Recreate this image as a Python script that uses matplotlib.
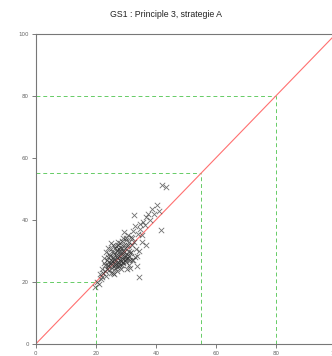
import matplotlib
matplotlib.use("Agg")
import matplotlib.pyplot as plt

titulo = "GS1 : Principle 3, strategie A"

# scatter points
puntos_x = [19.8, 20.5, 21.0, 21.3, 21.8, 22.0, 22.4, 22.6, 23.0, 23.2,
            23.4, 23.6, 23.8, 24.0, 24.1, 24.3, 24.5, 24.6, 24.8, 25.0,
            25.1, 25.3, 25.4, 25.6, 25.8, 25.9, 26.0, 26.2, 26.3, 26.5,
            26.6, 26.8, 26.9, 27.0, 27.2, 27.3, 27.5, 27.6, 27.8, 27.9,
            28.0, 28.2, 28.3, 28.5, 28.6, 28.8, 28.9, 29.0, 29.2, 29.3,
            29.5, 29.6, 29.8, 30.0, 30.1, 30.3, 30.5, 30.6, 30.8, 31.0,
            31.2, 31.4, 31.6, 31.8, 32.0, 32.3, 32.5, 32.8, 33.0, 33.3,
            33.6, 34.0, 34.3, 34.8, 35.2, 35.7, 36.2, 36.8, 37.3, 38.0,
            38.6, 39.5, 40.3, 41.0, 41.7, 42.0, 43.5, 22.8, 24.4, 25.6,
            26.4, 27.1, 27.7, 28.4, 29.1, 29.9, 30.4, 31.1, 26.0, 27.4,
            28.7, 30.2, 31.5, 33.8, 24.9, 23.5, 32.6, 34.4, 29.4, 30.9,
            25.2, 26.1, 26.7, 27.3, 27.9, 28.1, 28.9, 29.6, 30.3, 31.3,
            24.2, 25.7, 26.9, 28.2, 29.7, 23.9, 32.1, 33.1, 27.6, 30.7,
            22.2, 25.0, 26.5, 28.6, 31.9, 35.4, 36.6, 34.7]
puntos_y = [18.5, 20.0, 19.2, 22.5, 21.0, 24.0, 22.8, 26.0, 23.5, 25.5,
            29.5, 24.2, 27.0, 25.0, 31.0, 26.5, 23.8, 28.5, 25.8, 27.2,
            30.5, 24.5, 26.8, 32.0, 28.0, 25.2, 29.0, 27.5, 30.8, 26.0,
            28.8, 31.5, 24.8, 27.8, 29.8, 33.0, 26.5, 28.2, 30.5, 25.5,
            27.0, 32.5, 29.2, 26.8, 31.0, 28.5, 34.0, 30.0, 27.5, 29.5,
            32.0, 28.0, 30.8, 26.5, 33.5, 29.0, 31.5, 35.0, 27.8, 30.0,
            32.8, 24.5, 34.5, 29.5, 31.8, 36.5, 27.0, 33.0, 38.0, 30.5,
            25.0, 35.5, 21.5, 37.0, 33.0, 39.4, 38.5, 41.0, 42.0, 40.0,
            43.5, 42.0, 44.8, 43.0, 36.8, 51.3, 50.5, 27.8, 29.0, 23.0,
            25.5, 23.5, 25.2, 24.0, 26.2, 27.5, 24.0, 28.2, 22.5, 31.8,
            33.2, 34.2, 27.0, 28.5, 32.5, 21.8, 41.5, 30.0, 36.0, 25.5,
            26.0, 27.2, 25.8, 28.6, 27.0, 29.8, 26.4, 28.8, 27.6, 29.2,
            25.6, 29.6, 30.2, 31.2, 27.2, 28.0, 34.0, 28.0, 26.2, 31.8,
            21.5, 23.0, 24.6, 25.4, 27.2, 35.0, 32.0, 38.8]

# niveles de referencia (lineas verdes)
niveles = [20, 55, 80]

ticks = [0, 20, 40, 60, 80, 100]

fig = plt.figure(figsize=(3.32, 3.56), dpi=100)
ax = fig.add_axes([0.108, 0.034, 0.904, 0.871])

ax.plot([0, 100], [0, 100], color="#ff7070", lw=0.8, zorder=2)
for n in niveles:
    ax.plot([0, n], [n, n], color="#66cc66", lw=0.7, ls=(0, (4, 3)), zorder=1)
    ax.plot([n, n], [0, n], color="#66cc66", lw=0.7, ls=(0, (4, 3)), zorder=1)

ax.scatter(puntos_x, puntos_y, marker="x", s=15, color="#333333",
           linewidths=0.6, alpha=0.7, zorder=3)

ax.set_xlim(0, 100)
ax.set_ylim(0, 100)
ax.set_xticks(ticks)
ax.set_yticks(ticks)
ax.tick_params(direction="out", length=3, width=0.6, colors="#666666",
               labelsize=4, pad=2)
for s in ["left", "bottom", "top", "right"]:
    ax.spines[s].set_color("#777777")
    ax.spines[s].set_linewidth(0.8)

fig.text(0.5, 0.96, titulo, ha="center", va="center", fontsize=6.3,
         family="Liberation Sans", color="#222222")

plt.savefig("out.png", dpi=100)
